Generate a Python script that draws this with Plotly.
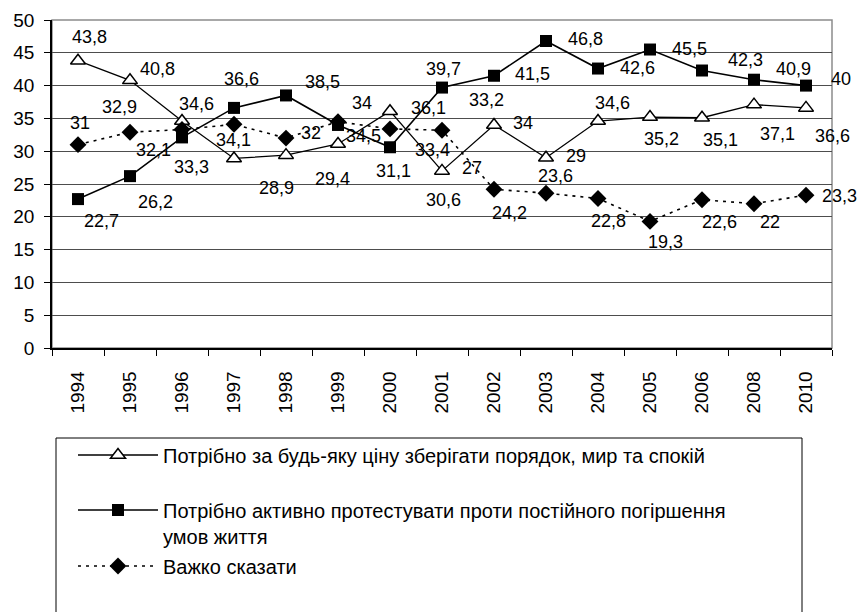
import plotly.graph_objects as go

years = ["1994", "1995", "1996", "1997", "1998", "1999", "2000", "2001",
         "2002", "2003", "2004", "2005", "2006", "2008", "2010"]
order_peace = [43.8, 40.8, 34.6, 28.9, 29.4, 31.1, 36.1, 27, 34, 29, 34.6, 35.2, 35.1, 37.1, 36.6]
protest = [22.7, 26.2, 32.1, 36.6, 38.5, 34, 30.6, 39.7, 41.5, 46.8, 42.6, 45.5, 42.3, 40.9, 40]
hard_to_say = [31, 32.9, 33.3, 34.1, 32, 34.5, 33.4, 33.2, 24.2, 23.6, 22.8, 19.3, 22.6, 22, 23.3]

names = [
    "Потрібно за будь-яку ціну зберігати порядок, мир та спокій",
    "Потрібно активно протестувати проти постійного погіршення<br>умов життя",
    "Важко сказати",
]

# label offsets in pixels (dx right, dy down), as placed in the original chart
off_peace = [(11, -24), (27, -11), (14, -17), (42, 30), (46, 24), (55, 27), (38, -3), (30, -3),
             (29, -2), (30, -2), (14, -18), (11, 22), (18, 22), (23, 29), (26, 28)]
off_protest = [(23, 22), (25, 26), (-29, 13), (7, -29), (36, -13), (24, -22), (53, 53), (1, -19),
               (38, -2), (39, -2), (39, -1), (39, -1), (43, -11), (39, -11), (35, -7)]
off_hard = [(2, -22), (-11, -25), (9, 37), (-1, 16), (25, -5), (25, 14), (42, 21), (44, -30),
            (15, 24), (9, -17), (10, 23), (15, 21), (17, 22), (16, 18), (33, 1)]

FONT = "Liberation Sans, Arial, sans-serif"

fig = go.Figure()
fig.add_trace(go.Scatter(
    x=years, y=order_peace, name=names[0], mode="lines+markers",
    line=dict(color="black", width=1.3),
    marker=dict(symbol="triangle-up", size=13, color="white", line=dict(color="black", width=1.5)),
    legend="legend",
))
fig.add_trace(go.Scatter(
    x=years, y=protest, name=names[1], mode="lines+markers",
    line=dict(color="black", width=1.6),
    marker=dict(symbol="square", size=12, color="black"),
    legend="legend2",
))
fig.add_trace(go.Scatter(
    x=years, y=hard_to_say, name=names[2], mode="lines+markers",
    line=dict(color="black", width=1.6, dash="3px,5px"),
    marker=dict(symbol="diamond", size=13, color="black"),
    legend="legend3",
))

annotations = []
for vals, offs in ((order_peace, off_peace), (protest, off_protest), (hard_to_say, off_hard)):
    for i, (v, (dx, dy)) in enumerate(zip(vals, offs)):
        annotations.append(dict(
            x=i, y=v, xref="x", yref="y", text=f"{v:g}".replace(".", ","),
            showarrow=False, xshift=dx, yshift=-dy,
            font=dict(family=FONT, size=18, color="black"),
        ))

# the page body has an 8px margin, so the figure is drawn 8px smaller
W, H = 858, 604
L, R, T, B = 44, 34, 12, 264


def py(p):
    # page pixel y -> paper coordinate
    return (348 - p) / 328


def px(p):
    # page pixel x -> paper coordinate
    return (p - 52) / 780


shapes = [
    dict(type="rect", xref="paper", yref="paper", x0=0, x1=1, y0=0, y1=1,
         line=dict(color="#8c8c8c", width=1.5), layer="below"),
    dict(type="rect", xref="paper", yref="paper", x0=px(56), x1=px(802), y0=py(625), y1=py(438),
         line=dict(color="black", width=1), layer="below"),
]

leg_common = dict(
    xanchor="left", yanchor="middle", bgcolor="rgba(0,0,0,0)", borderwidth=0,
    font=dict(family=FONT, size=20, color="black"), itemwidth=80, valign="top",
    itemclick=False, itemdoubleclick=False,
)

fig.update_layout(
    width=W, height=H,
    margin=dict(l=L, r=R, t=T, b=B, pad=0, autoexpand=False),
    paper_bgcolor="white", plot_bgcolor="white",
    font=dict(family=FONT, size=18, color="black"),
    showlegend=True,
    legend=dict(x=px(73), y=py(455), **leg_common),
    legend2=dict(x=px(73), y=py(523), **leg_common),
    legend3=dict(x=px(73), y=py(566), **leg_common),
    annotations=annotations,
    shapes=shapes,
    xaxis=dict(
        type="category", categoryorder="array", categoryarray=years,
        showline=True, linecolor="black", linewidth=1.5,
        ticks="outside", ticklen=6, tickcolor="black", tickwidth=1.2,
        tickson="boundaries", tickangle=-90, showgrid=False,
        tickfont=dict(family=FONT, size=19, color="black"),
        ticklabelstandoff=14, automargin=False,
        range=[-0.5, len(years) - 0.5], fixedrange=True,
    ),
    yaxis=dict(
        range=[0, 50], dtick=5, tick0=0,
        showline=True, linecolor="black", linewidth=1.5,
        ticks="outside", ticklen=6, tickcolor="black", tickwidth=1.2,
        showgrid=True, gridcolor="#4d4d4d", gridwidth=1, zeroline=False,
        tickfont=dict(family=FONT, size=19, color="black"),
        ticklabelstandoff=6, automargin=False,
        fixedrange=True,
    ),
)

fig.write_html("out.html")
